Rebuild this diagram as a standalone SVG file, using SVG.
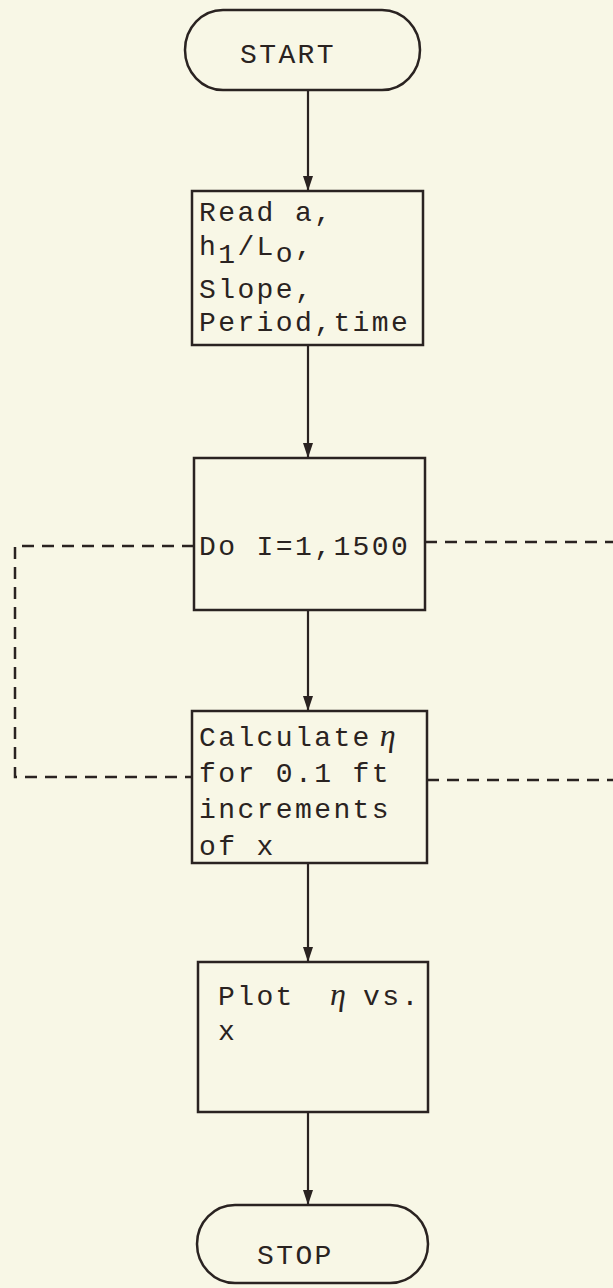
<svg xmlns="http://www.w3.org/2000/svg" width="613" height="1288" viewBox="0 0 613 1288">
<style>
.bg{fill:#f8f7e6}
.box{fill:none;stroke:#2a2321;stroke-width:2.5}
.t{font-family:"Liberation Mono","DejaVu Sans Mono",monospace;font-size:28px;letter-spacing:2.4px;fill:#2a2321}
.eta{font-family:"Liberation Serif","DejaVu Serif",serif;font-style:italic;font-size:32px;fill:#2a2321}
.ln{fill:none;stroke:#2a2321;stroke-width:2.2}
.dash{fill:none;stroke:#2a2321;stroke-width:2.5;stroke-dasharray:12 8}
</style>
<defs>
<marker id="arr" viewBox="0 0 15 10" refX="15" refY="5" markerUnits="userSpaceOnUse" markerWidth="15" markerHeight="10" orient="auto">
<path d="M0,0 L15,5 L0,10 z" fill="#2a2321"/>
</marker>
</defs>
<rect class="bg" x="0" y="0" width="613" height="1288"/>
<g id="connectors">
<line class="ln" x1="308" y1="90" x2="308" y2="191" marker-end="url(#arr)"/>
<line class="ln" x1="308" y1="345" x2="308" y2="458" marker-end="url(#arr)"/>
<line class="ln" x1="308" y1="610" x2="308" y2="711" marker-end="url(#arr)"/>
<line class="ln" x1="308" y1="863" x2="308" y2="962" marker-end="url(#arr)"/>
<line class="ln" x1="308" y1="1112" x2="308" y2="1205" marker-end="url(#arr)"/>
<path class="dash" d="M194,546 H15 V777 H192"/>
<path class="dash" d="M425,542 H613"/>
<path class="dash" d="M427,780 H613"/>
</g>
<g id="start">
<rect class="box" x="185" y="10" width="235" height="80" rx="38" ry="40"/>
<text class="t" x="240" y="63">START</text>
</g>
<g id="read">
<rect class="box" x="192" y="191" width="231" height="154"/>
<text class="t" x="199" y="221">Read a,</text>
<text class="t" x="199" y="255">h<tspan dy="8">1</tspan><tspan dy="-8">/L</tspan><tspan dy="7">o</tspan><tspan dy="-7">,</tspan></text>
<text class="t" x="199" y="298">Slope,</text>
<text class="t" x="199" y="331">Period,time</text>
</g>
<g id="do">
<rect class="box" x="194" y="458" width="231" height="152"/>
<text class="t" x="199" y="555">Do I=1,1500</text>
</g>
<g id="calc">
<rect class="box" x="192" y="711" width="235" height="152"/>
<text class="t" x="199" y="746">Calculate<tspan class="eta" dx="8">η</tspan></text>
<text class="t" x="199" y="782">for 0.1 ft</text>
<text class="t" x="199" y="818">increments</text>
<text class="t" x="199" y="855">of x</text>
</g>
<g id="plot">
<rect class="box" x="198" y="962" width="230" height="150"/>
<text class="t" x="218" y="1005">Plot</text>
<text class="eta" x="330" y="1005">η</text>
<text class="t" x="363" y="1005">vs.</text>
<text class="t" x="218" y="1040">x</text>
</g>
<g id="stop">
<rect class="box" x="197" y="1205" width="231" height="78" rx="38" ry="39"/>
<text class="t" x="257" y="1264">STOP</text>
</g>
</svg>
